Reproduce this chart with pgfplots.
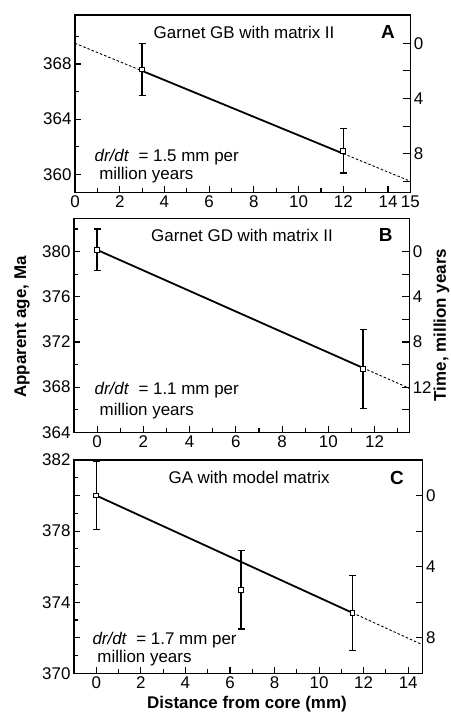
\documentclass[border=0pt]{standalone}
\usepackage{fontspec}
\setmainfont{Liberation Sans}
\usepackage{pgfplots}
\pgfplotsset{compat=1.18}

\pgfplotsset{
  lft/.style={scale only axis, anchor=south west, clip=false,
    axis line style={line width=1.3bp}, tick style={black,line width=1.1bp},
    major tick length=6bp, minor tick length=4bp, tick align=inside,
    xtick pos=bottom, ytick pos=left,
    tick label style={font=\fontsize{17}{17}\selectfont},
    /pgf/number format/assume math mode=true},
  rgt/.style={scale only axis, anchor=south west, hide x axis, y dir=reverse,
    axis line style={line width=1.3bp}, tick style={black,line width=1.1bp},
    major tick length=7bp, minor tick length=7bp, tick align=inside,
    ytick pos=right, yticklabel pos=right,
    tick label style={font=\fontsize{17}{17}\selectfont},
    /pgf/number format/assume math mode=true},
  fitline/.style={black, line width=1.8bp, no marks},
  dashline/.style={black, line width=0.9bp, dash pattern=on 2.5bp off 2bp, no marks},
  pts/.style={black, only marks, mark=square*, mark size=2.4bp,
    mark options={fill=white, line width=0.9bp},
    error bars/.cd, y dir=both, y explicit,
    error bar style={line width=1.3bp},
    error mark options={rotate=90, mark size=3.5bp, line width=1.3bp}},
}
\newcommand{\fs}{\fontsize{17}{20}\selectfont}

\begin{document}
\begin{tikzpicture}[x=1bp,y=1bp]
% ---- panel A
\begin{axis}[lft, at={(75bp,519.7bp)}, width=335.4bp, height=177.3bp,
  xmin=0, xmax=15, ymin=358.7, ymax=371.55,
  xtick={0,2,4,6,8,10,12,14,15}, minor xtick={1,3,...,13},
  ytick={360,364,368}, minor ytick={362,366,370}]
\addplot[dashline] coordinates {(0,369.5) (3,367.5)};
\addplot[fitline] coordinates {(3,367.5) (12,361.5)};
\addplot[dashline] coordinates {(12,361.5) (15,359.5)};
\addplot[pts] coordinates {(3,367.6) +- (0,1.87) (12,361.7) +- (0,1.6)};
\node[font=\fs] at (rel axis cs:0.504,0.904) {Garnet GB with matrix II};
\node[font=\fontsize{19}{20}\selectfont\bfseries] at (rel axis cs:0.933,0.904) {A};
\node[font=\fs, anchor=west] at (rel axis cs:0.048,0.199) {\textit{dr/dt}\ \ = 1.5 mm per};
\node[font=\fs, anchor=west] at (rel axis cs:0.062,0.098) {million years};
\end{axis}
\begin{axis}[rgt, at={(75bp,519.7bp)}, width=335.4bp, height=177.3bp,
  xmin=0, xmax=15, ymin=-2.05, ymax=10.8,
  ytick={0,4,8}, minor ytick={2,6,10}]
\end{axis}
% ---- panel B
\begin{axis}[lft, at={(74bp,279.7bp)}, width=335.3bp, height=214bp,
  xmin=-1, xmax=13.5, ymin=364, ymax=382.95,
  xtick={0,2,...,12}, minor xtick={1,3,...,13},
  ytick={364,368,...,380}, minor ytick={366,370,...,382}]
\addplot[fitline] coordinates {(0,380.15) (11.5,369.7)};
\addplot[dashline] coordinates {(11.5,369.7) (13.5,367.9)};
\addplot[pts] coordinates {(0,380.15) +- (0,1.85) (11.5,369.6) +- (0,3.5)};
\node[font=\fs] at (rel axis cs:0.501,0.922) {Garnet GD with matrix II};
\node[font=\fontsize{19}{20}\selectfont\bfseries] at (rel axis cs:0.930,0.922) {B};
\node[font=\fs, anchor=west] at (rel axis cs:0.051,0.198) {\textit{dr/dt}\ \ = 1.1 mm per};
\node[font=\fs, anchor=west] at (rel axis cs:0.066,0.100) {million years};
\end{axis}
\begin{axis}[rgt, at={(74bp,279.7bp)}, width=335.3bp, height=214bp,
  xmin=-1, xmax=13.5, ymin=-2.95, ymax=16,
  ytick={0,4,8,12}, minor ytick={2,6,10,14}]
\end{axis}
% ---- panel C
\begin{axis}[lft, at={(74bp,38.7bp)}, width=348.7bp, height=213.3bp,
  xmin=-1, xmax=14.65, ymin=370, ymax=382,
  xtick={0,2,...,14}, minor xtick={1,3,...,13},
  ytick={370,374,378,382}, minor ytick={371,...,381},
  extra y ticks={372,376,380}, extra y tick labels={}]
\addplot[fitline] coordinates {(0,380) (11.5,373.4)};
\addplot[dashline] coordinates {(11.5,373.4) (14.65,371.6)};
\addplot[pts] coordinates {(0,380) +- (0,1.9) (6.5,374.7) +- (0,2.2) (11.5,373.4) +- (0,2.1)};
\node[font=\fs] at (rel axis cs:0.502,0.916) {GA with model matrix};
\node[font=\fontsize{19}{20}\selectfont\bfseries] at (rel axis cs:0.926,0.916) {C};
\node[font=\fs, anchor=west] at (rel axis cs:0.043,0.156) {\textit{dr/dt}\ \ = 1.7 mm per};
\node[font=\fs, anchor=west] at (rel axis cs:0.057,0.072) {million years};
\end{axis}
\begin{axis}[rgt, at={(74bp,38.7bp)}, width=348.7bp, height=213.3bp,
  xmin=-1, xmax=14.65, ymin=-2, ymax=10,
  ytick={0,4,8}, minor ytick={2,6}]
\end{axis}
% ---- shared labels
\node[font=\fontsize{17}{20}\selectfont\bfseries, rotate=90] at (22bp,385bp) {Apparent age, Ma};
\node[font=\fontsize{17}{20}\selectfont\bfseries, rotate=90] at (441.5bp,387bp) {Time, million years};
\node[font=\fontsize{17}{20}\selectfont\bfseries] at (247bp,7.5bp) {Distance from core (mm)};
\pgfresetboundingbox
\useasboundingbox (0,0) rectangle (451bp,712bp);
\end{tikzpicture}
\end{document}
